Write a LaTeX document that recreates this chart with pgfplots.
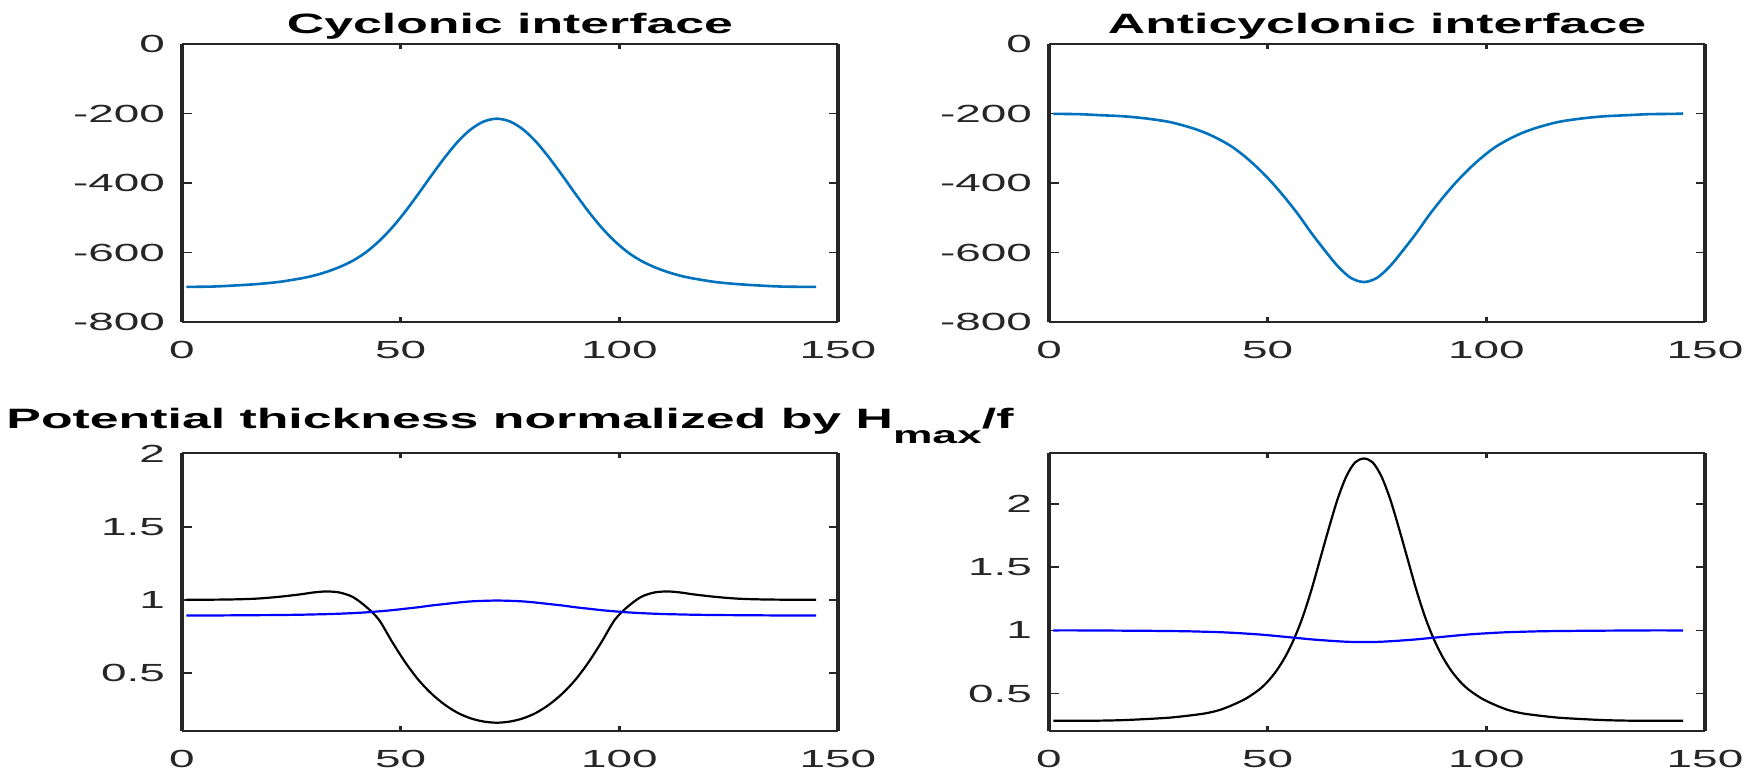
\documentclass[border=0pt]{standalone}
\usepackage{fontspec}
\setmainfont{Liberation Sans}[FakeStretch=1.85]
\usepackage{pgfplots}
\pgfplotsset{compat=1.18}
\definecolor{mblue}{RGB}{0,114,189}
\definecolor{axgray}{RGB}{38,38,38}
\pgfplotsset{
  mystyle/.style={
    scale only axis, width=328pt, height=139pt,
    xmin=0, xmax=150, xtick={0,50,100,150}, xticklabels={0,50,100,150},
    tick align=inside, tick pos=both,
    separate axis lines,
    x axis line style={line width=1pt, color=axgray},
    y axis line style={line width=2pt, color=axgray},
    xtick style={line width=1.6pt, color=axgray, /pgfplots/major tick length=2.5pt},
    ytick style={line width=0.9pt, color=axgray, /pgfplots/major tick length=4.75pt},
    ticklabel style={font=\fontsize{12.4}{14}\selectfont, color=axgray},
    xticklabel style={yshift=-6pt},
    yticklabel style={xshift=-5pt},
    title style={font=\fontsize{14}{16}\selectfont\bfseries, at={(0.5,1)}, anchor=base, yshift=-0.5pt, inner sep=0pt},
    every axis plot/.append style={line join=round},
  }
}
\begin{document}
\begin{tikzpicture}
\useasboundingbox (0,0) rectangle (879pt,387.5pt);
% Top left
\begin{axis}[mystyle, at={(91pt,226.5pt)}, anchor=south west,
  ymin=-800, ymax=0, ytick={-800,-600,-400,-200,0}, yticklabels={-800,-600,-400,-200,0},
  title={Cyclonic interface}]
\addplot[mblue, line width=1.3pt, smooth] coordinates {
(1,-699) (7,-698) (12,-695) (17,-691) (22,-685) (27,-675) (30,-667) (33,-656) (36,-642) (39,-624) (42,-600) (45,-568) (48,-529) (51,-483) (54,-432) (57,-379) (60,-328) (63,-282) (66,-246) (69,-223) (72,-215) (75,-223) (78,-246) (81,-282) (84,-328) (87,-379) (90,-432) (93,-483) (96,-529) (99,-568) (102,-600) (105,-624) (108,-642) (111,-656) (114,-667) (117,-675) (122,-685) (127,-691) (132,-695) (137,-698) (143,-699) (145,-699)
};
\end{axis}
% Top right
\begin{axis}[mystyle, at={(524.5pt,226.5pt)}, anchor=south west,
  ymin=-800, ymax=0, ytick={-800,-600,-400,-200,0}, yticklabels={-800,-600,-400,-200,0},
  title={Anticyclonic interface}]
\addplot[mblue, line width=1.3pt, smooth] coordinates {
(1,-201) (7,-202) (12,-205) (17,-208) (22,-214) (27,-223) (30,-232) (33,-243) (36,-257) (39,-275) (42,-297) (45,-326) (48,-360) (51,-399) (54,-443) (57,-491) (60,-544) (63,-593) (66,-639) (69,-673) (72,-685) (75,-673) (78,-639) (81,-593) (84,-544) (87,-491) (90,-443) (93,-399) (96,-360) (99,-326) (102,-297) (105,-275) (108,-257) (111,-243) (114,-232) (117,-223) (122,-214) (127,-208) (132,-205) (137,-202) (143,-201) (145,-200)
};
\end{axis}
% Bottom left
\begin{axis}[mystyle, at={(91pt,21.75pt)}, anchor=south west,
  ymin=0.1, ymax=2, ytick={0.5,1,1.5,2}, yticklabels={0.5,1,1.5,2},
  title style={yshift=7pt},
  title={Potential thickness normalized by H\raisebox{-7.5pt}{\fontsize{12}{12}\selectfont max}/f}]
\addplot[black, line width=1.1pt, smooth] coordinates {
(1,1.000) (7,1.001) (12,1.003) (17,1.008) (22,1.020) (27,1.037) (30,1.050) (33,1.057) (36,1.050) (39,1.020) (42,0.955) (45,0.865) (48,0.715) (51,0.575) (54,0.455) (57,0.360) (60,0.285) (63,0.228) (66,0.190) (69,0.168) (72,0.160) (75,0.168) (78,0.190) (81,0.228) (84,0.285) (87,0.360) (90,0.455) (93,0.575) (96,0.715) (99,0.865) (102,0.955) (105,1.020) (108,1.050) (111,1.057) (114,1.050) (117,1.037) (122,1.020) (127,1.008) (132,1.003) (137,1.001) (143,1.000) (145,1.000)
};
\addplot[blue, line width=1.1pt, smooth] coordinates {
(1,0.893) (7,0.893) (12,0.894) (17,0.895) (22,0.896) (27,0.898) (30,0.900) (33,0.902) (36,0.905) (39,0.909) (42,0.914) (45,0.921) (48,0.929) (51,0.939) (54,0.949) (57,0.961) (60,0.971) (63,0.981) (66,0.989) (69,0.993) (72,0.995) (75,0.993) (78,0.989) (81,0.981) (84,0.971) (87,0.961) (90,0.949) (93,0.939) (96,0.929) (99,0.921) (102,0.914) (105,0.909) (108,0.905) (111,0.902) (114,0.900) (117,0.898) (122,0.896) (127,0.895) (132,0.894) (137,0.893) (143,0.893) (145,0.893)
};
\end{axis}
% Bottom right
\begin{axis}[mystyle, at={(524.5pt,21.75pt)}, anchor=south west,
  ymin=0.2, ymax=2.4, ytick={0.5,1,1.5,2}, yticklabels={0.5,1,1.5,2}]
\addplot[black, line width=1.1pt, smooth] coordinates {
(1,0.285) (7,0.285) (12,0.286) (17,0.290) (22,0.298) (27,0.308) (30,0.318) (33,0.330) (36,0.345) (39,0.370) (42,0.410) (45,0.460) (48,0.530) (50,0.595) (52,0.680) (54,0.790) (56,0.930) (58,1.105) (60,1.320) (62,1.565) (64,1.810) (66,2.040) (68,2.220) (70,2.330) (72,2.360) (74,2.330) (76,2.220) (78,2.040) (80,1.810) (82,1.565) (84,1.320) (86,1.105) (88,0.930) (90,0.790) (92,0.680) (94,0.595) (96,0.530) (99,0.460) (102,0.410) (105,0.370) (108,0.345) (111,0.330) (114,0.318) (117,0.308) (122,0.298) (127,0.290) (132,0.286) (137,0.285) (143,0.285) (145,0.285)
};
\addplot[blue, line width=1.1pt, smooth] coordinates {
(1,1.000) (7,1.000) (12,0.999) (17,0.998) (22,0.997) (27,0.995) (30,0.994) (33,0.992) (36,0.989) (39,0.986) (42,0.981) (45,0.975) (48,0.968) (51,0.959) (54,0.949) (57,0.939) (60,0.929) (63,0.921) (66,0.914) (69,0.909) (72,0.908) (75,0.909) (78,0.914) (81,0.921) (84,0.929) (87,0.939) (90,0.949) (93,0.959) (96,0.968) (99,0.975) (102,0.981) (105,0.986) (108,0.989) (111,0.992) (114,0.994) (117,0.995) (122,0.997) (127,0.998) (132,0.999) (137,1.000) (143,1.000) (145,1.000)
};
\end{axis}
\end{tikzpicture}
\end{document}
